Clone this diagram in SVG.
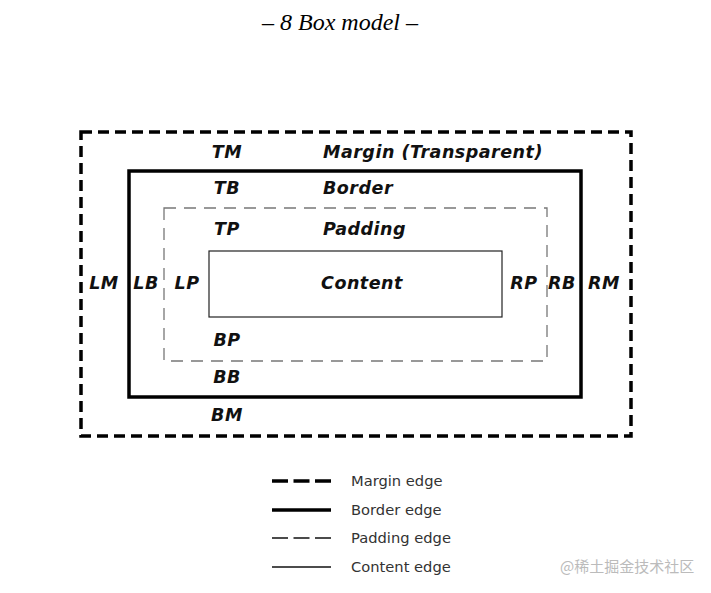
<svg xmlns="http://www.w3.org/2000/svg" width="711" height="593" viewBox="0 0 711 593">
<style>
.lbl{font-family:"DejaVu Sans",Verdana,sans-serif;font-weight:bold;font-style:italic;font-size:17.5px;letter-spacing:0.5px;fill:#111}
.c{text-anchor:middle}
.leg{font-family:"DejaVu Sans",Verdana,sans-serif;font-size:14.7px;fill:#333}
.m{fill:none;stroke:#000;stroke-width:3.5;stroke-dasharray:11 6}
.b{fill:none;stroke:#000;stroke-width:3.5}
.p{fill:none;stroke:#777;stroke-width:1.3;stroke-dasharray:12 8}
.ct{fill:none;stroke:#222;stroke-width:1.2}
</style>
<rect width="711" height="593" fill="#fff"/>
<text x="340" y="30" text-anchor="middle" font-family="Liberation Serif, serif" font-style="italic" font-size="24" fill="#000">– 8 Box model –</text>
<g id="margin">
<rect class="m" x="81" y="132" width="550" height="304"/>
<text class="lbl c" x="227" y="158">TM</text>
<text class="lbl" x="323" y="158">Margin (Transparent)</text>
<text class="lbl c" x="104" y="289">LM</text>
<text class="lbl c" x="604" y="289">RM</text>
<text class="lbl c" x="227" y="421">BM</text>
</g>
<g id="border">
<rect class="b" x="129" y="171" width="452" height="226"/>
<text class="lbl c" x="227" y="194">TB</text>
<text class="lbl" x="323" y="194">Border</text>
<text class="lbl c" x="146" y="289">LB</text>
<text class="lbl c" x="562" y="289">RB</text>
<text class="lbl c" x="227" y="383">BB</text>
</g>
<g id="padding">
<rect class="p" x="164" y="208" width="383" height="153"/>
<text class="lbl c" x="227" y="235">TP</text>
<text class="lbl" x="323" y="235">Padding</text>
<text class="lbl c" x="187" y="289">LP</text>
<text class="lbl c" x="524" y="289">RP</text>
<text class="lbl c" x="227" y="346">BP</text>
</g>
<g id="content">
<rect class="ct" x="209" y="251" width="293" height="66"/>
<text class="lbl c" x="362" y="289">Content</text>
</g>
<g id="legend">
<line x1="272" y1="481" x2="331" y2="481" stroke="#000" stroke-width="3.5" stroke-dasharray="16 5.5"/>
<text class="leg" x="351" y="486">Margin edge</text>
<line x1="272" y1="510" x2="331" y2="510" stroke="#000" stroke-width="3.5"/>
<text class="leg" x="351" y="515">Border edge</text>
<line x1="272" y1="538" x2="331" y2="538" stroke="#111" stroke-width="1.3" stroke-dasharray="16 5.5"/>
<text class="leg" x="351" y="543">Padding edge</text>
<line x1="272" y1="567" x2="331" y2="567" stroke="#111" stroke-width="1.3"/>
<text class="leg" x="351" y="572">Content edge</text>
</g>
<text x="560" y="572" font-family="Noto Sans CJK SC, sans-serif" font-size="15" fill="#bbb">@稀土掘金技术社区</text>
</svg>
